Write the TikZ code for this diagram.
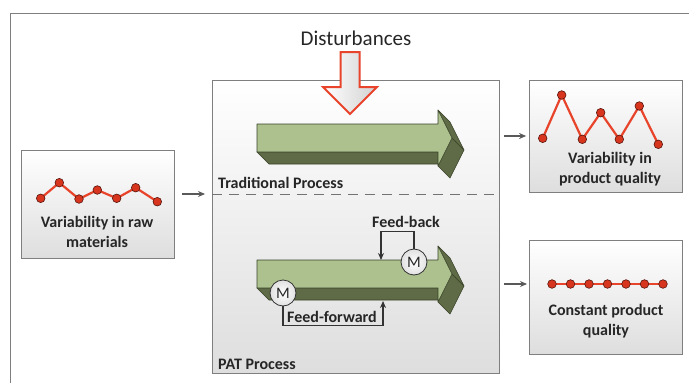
\documentclass[tikz,border=0pt]{standalone}
\usepackage{fontspec}
\setmainfont{Carlito}
\usetikzlibrary{arrows.meta,calc}
\definecolor{leaf}{HTML}{ACC18E}
\definecolor{moss}{HTML}{5F6B46}
\definecolor{mossline}{HTML}{3A4229}
\definecolor{signal}{HTML}{E8442B}
\definecolor{dotred}{HTML}{D8351F}
\definecolor{frame}{HTML}{7F7F7F}
\definecolor{ink}{HTML}{262626}

\begin{document}
\begin{tikzpicture}[x=1pt,y=-1pt,
  box/.style={draw=frame,line width=0.8pt,top color=white,bottom color=black!13,inner sep=0pt},
  lbl/.style={font=\fontsize{16}{20}\selectfont\bfseries,text=ink,align=center,inner sep=1pt},
  flow/.style={draw=black!65,line width=1.5pt,-{Stealth[length=7pt,width=6pt]}},
  ctl/.style={draw=black!80,line width=1.2pt,-{Stealth[length=7pt,width=6pt]}},
  meter/.style={circle,draw=black!80,line width=0.8pt,minimum size=26pt,inner sep=0pt,
    inner color=white,outer color=black!12,text=ink,font=\fontsize{16}{16}\selectfont},
  trace/.style={draw=signal,line width=2.2pt,mark=*,mark size=4.3pt,
    mark options={fill=dotred,draw=black!60!dotred,line width=0.6pt}},
  face/.style={fill=moss,draw=mossline,line width=0.6pt,line join=round}]

\useasboundingbox (0,0) rectangle (689,383);
\draw[frame,line width=1pt] (700,13.5) -- (10,13.5) -- (10,390);

% boxes
\node[box,minimum width=287pt,minimum height=293pt] (proc) at (355.5,226.5) {};
\node[box,minimum width=153pt,minimum height=108pt] (lbox) at (97.5,204) {};
\node[box,minimum width=153pt,minimum height=112pt] (tbox) at (606,136) {};
\node[box,minimum width=153pt,minimum height=114pt] (cbox) at (606,297) {};

% split between the two processes
\coordinate (split) at (212,194);
\draw[black!55,line width=0.8pt,dash pattern=on 10pt off 7pt] (split) -- (split -| proc.east);

% disturbances
\node[font=\fontsize{21}{21}\selectfont,text=ink] (dist) at (356,38) {Disturbances};
\draw[draw=signal,line width=2pt,left color=white,right color=black!18,line join=miter]
  (340.5,52) -- (359.5,52) -- (359.5,87) -- (377,87) -- (350,114) -- (323,87) -- (340.5,87) -- cycle;

% process arrows
\foreach \dy in {0,136}{
  \begin{scope}[shift={(0,\dy)}]
    \filldraw[face] (257,152) -- (438,152) -- (450,164) -- (269,164) -- cycle;
    \filldraw[face] (452,138) -- (438,166) -- (450,178) -- (464,150) -- cycle;
    \filldraw[face] (438,110) -- (452,138) -- (464,150) -- (450,122) -- cycle;
    \filldraw[face,fill=leaf] (257,124) -- (438,124) -- (438,110) -- (452,138)
      -- (438,166) -- (438,152) -- (257,152) -- cycle;
  \end{scope}}

% charts
\draw[trace] plot coordinates {(40.7,198.3) (59.3,182.7) (79,199) (97.3,190) (116.7,198.3) (135.7,187.7) (157.3,201.7)};
\draw[trace] plot coordinates {(542.7,138.3) (561.7,95) (582.3,139.3) (600.7,112.7) (619.3,139.3) (639.3,106) (658.3,144.3)};
\coordinate (even) at (552,284);
\draw[trace] plot coordinates {(even) (570.5,284) (589,284) (607.5,284) (626,284) (644.5,284) (663,284)};

% texts
\node[lbl] (rawtxt) at (97,232) {Variability in raw\\materials};
\node[lbl] (vartxt) at (610,169) {Variability in\\product quality};
\node[lbl] (consttxt) at (606,321) {Constant product\\quality};
\node[lbl,anchor=west] (tradtxt) at (217,183) {Traditional Process};
\node[lbl,anchor=west] (pattxt) at (217,364) {PAT Process};
\node[lbl] (fbtxt) at (406,222) {Feed-back};
\node[lbl] (fftxt) at (332,317) {Feed-forward};

% flows
\draw[flow,shorten <=8pt,shorten >=7pt] (lbox.east |- split) -- (split);
\draw[flow,shorten <=5pt,shorten >=3pt] (proc.east |- tbox.west) -- (tbox.west);
\draw[flow,shorten <=5pt,shorten >=25pt] (proc.east |- even) -- (even);

% control loops
\node[meter] (fbM) at (414,262) {M};
\node[meter] (ffM) at (283,293) {M};
\coordinate (fbin) at (381,260);
\coordinate (ffin) at (383,301);
\draw[ctl] (fbM.north) -- ++(0,-17) -| (fbin);
\draw[ctl] (ffM.south) -- ++(0,19) -| (ffin);
\end{tikzpicture}
\end{document}
